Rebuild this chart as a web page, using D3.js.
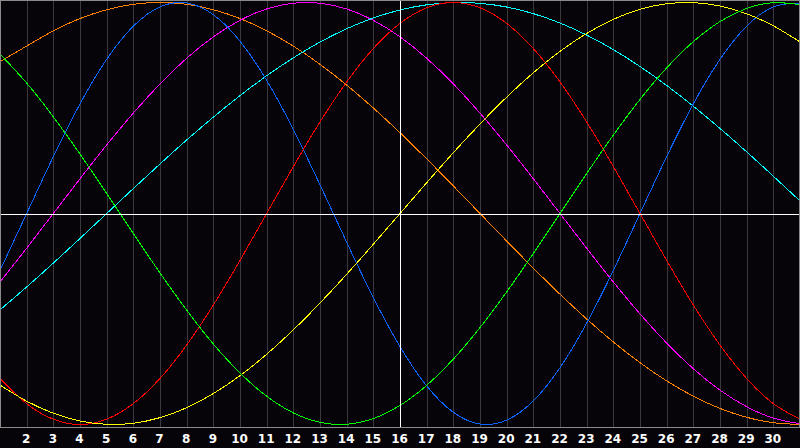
<!DOCTYPE html>
<html>
<head>
<meta charset="utf-8">
<script src="https://cdn.jsdelivr.net/npm/d3@7"></script>
<style>
  html, body { margin: 0; padding: 0; background: #060408; }
  svg { display: block; }
</style>
</head>
<body>
<svg id="chart" width="800" height="448"></svg>
<script>
// Days shown on the x axis (1..31), tick labels 2..30
const days = d3.range(1, 32);
const tickLabels = ["2","3","4","5","6","7","8","9","10","11","12","13","14","15","16","17","18","19","20","21","22","23","24","25","26","27","28","29","30"];

// Series values (relative level -1..1) read per day, days 1..31
const physical = [-0.2698,0,0.2698,0.5196,0.7308,0.8879,0.9791,0.9977,0.9423,0.8170,0.6311,0.3984,0.1362,-0.1362,-0.3984,-0.6311,-0.8170,-0.9423,-0.9977,-0.9791,-0.8879,-0.7308,-0.5196,-0.2698,0,0.2698,0.5196,0.7308,0.8879,0.9791,0.9977];
const emotional = [-0.7818,-0.9010,-0.9749,-1,-0.9749,-0.9010,-0.7818,-0.6235,-0.4339,-0.2225,0,0.2225,0.4339,0.6235,0.7818,0.9010,0.9749,1,0.9749,0.9010,0.7818,0.6235,0.4339,0.2225,0,-0.2225,-0.4339,-0.6235,-0.7818,-0.9010,-0.9749];
const intellectual = [0.7557,0.6182,0.4582,0.2817,0.0951,-0.0951,-0.2817,-0.4582,-0.6182,-0.7557,-0.8660,-0.9450,-0.9898,-0.9989,-0.9718,-0.9096,-0.8146,-0.6901,-0.5406,-0.3717,-0.1893,0,0.1893,0.3717,0.5406,0.6901,0.8146,0.9096,0.9718,0.9989,0.9898];
const intuitive = [-0.3247,-0.1646,0,0.1646,0.3247,0.4759,0.6142,0.7357,0.8372,0.9158,0.9694,0.9966,0.9966,0.9694,0.9158,0.8372,0.7357,0.6142,0.4759,0.3247,0.1646,0,-0.1646,-0.3247,-0.4759,-0.6142,-0.7357,-0.8372,-0.9158,-0.9694,-0.9966];
const aesthetic = [-0.8135,-0.8894,-0.9465,-0.9834,-0.9993,-0.9940,-0.9675,-0.9204,-0.8533,-0.7686,-0.6671,-0.5517,-0.4244,-0.2881,-0.1456,0,0.1456,0.2881,0.4244,0.5517,0.6671,0.7686,0.8533,0.9204,0.9675,0.9940,0.9993,0.9834,0.9465,0.8894,0.8135];
const awareness = [0.7200,0.7934,0.8660,0.9239,0.9659,0.9914,1,0.9914,0.9659,0.9239,0.8660,0.7934,0.7071,0.6088,0.5,0.3827,0.2588,0.1305,0,-0.1305,-0.2588,-0.3827,-0.5,-0.6088,-0.7071,-0.7934,-0.8660,-0.9239,-0.9659,-0.9914,-1];
const spiritual = [-0.4566,-0.3482,-0.2349,-0.1183,0,0.1183,0.2349,0.3482,0.4566,0.5585,0.6527,0.7378,0.8126,0.8758,0.9267,0.9646,0.9890,0.9996,0.9960,0.9785,0.9473,0.9028,0.8457,0.7767,0.6966,0.6068,0.5085,0.4031,0.2921,0.1769,0.0592];

const seriesNames = ["awareness","intuitive","spiritual","physical","emotional","aesthetic","intellectual"];
const seriesValues = [awareness, intuitive, spiritual, physical, emotional, aesthetic, intellectual];
const seriesColors = ["#ff8000","#ff00ff","#00ffff","#0a64ff","#ff0000","#ffff00","#00ff00"];
const todayDay = 16;

const W = 800, H = 448, plotBottom = 427;
const svg = d3.select("#chart");

const x = d3.scaleLinear().domain([1, 31]).range([0, 800]);
const y = d3.scaleLinear().domain([-1, 1]).range([424.5, 2.5]);

svg.append("rect").attr("x", 0).attr("y", 0).attr("width", W).attr("height", H).attr("fill", "#060408");

// vertical grid lines
const gridDays = tickLabels.map(Number);
svg.append("g").selectAll("line").data(gridDays.filter(d => d !== todayDay)).join("line")
  .attr("x1", d => Math.round(x(d)) + 0.5).attr("x2", d => Math.round(x(d)) + 0.5)
  .attr("y1", 0).attr("y2", plotBottom)
  .attr("stroke", "#3a3a3e").attr("stroke-width", 1).attr("shape-rendering", "crispEdges");

// axis labels
const xAxis = d3.axisBottom(x).tickValues(gridDays).tickFormat((d, i) => tickLabels[i]).tickSize(0).tickPadding(0);
const ax = svg.append("g").attr("transform", `translate(-1, ${plotBottom + 7})`).call(xAxis);
ax.select(".domain").remove();
ax.selectAll("text")
  .attr("fill", "#ffffff")
  .attr("font-family", "DejaVu Sans, sans-serif")
  .attr("font-weight", "bold")
  .attr("font-size", "12px")
  .attr("dy", "0.71em");

// series
const line = d3.line().x((d, i) => x(days[i])).y(d => y(d)).curve(d3.curveNatural);
svg.append("g").selectAll("path").data(seriesValues).join("path")
  .attr("d", d => line(d))
  .attr("fill", "none")
  .attr("stroke", (d, i) => seriesColors[i])
  .attr("stroke-width", 1)
  .attr("shape-rendering", "crispEdges");

// today marker and zero line
svg.append("line")
  .attr("x1", Math.round(x(todayDay)) + 0.5).attr("x2", Math.round(x(todayDay)) + 0.5)
  .attr("y1", 0).attr("y2", plotBottom)
  .attr("stroke", "#ffffff").attr("shape-rendering", "crispEdges");
svg.append("line")
  .attr("x1", 0).attr("x2", W)
  .attr("y1", Math.round(y(0)) + 0.5).attr("y2", Math.round(y(0)) + 0.5)
  .attr("stroke", "#ffffff").attr("shape-rendering", "crispEdges");

// border
svg.append("rect").attr("x", 0.5).attr("y", 0.5).attr("width", W - 1).attr("height", plotBottom)
  .attr("fill", "none").attr("stroke", "#8a8a8a").attr("shape-rendering", "crispEdges");
</script>
</body>
</html>
